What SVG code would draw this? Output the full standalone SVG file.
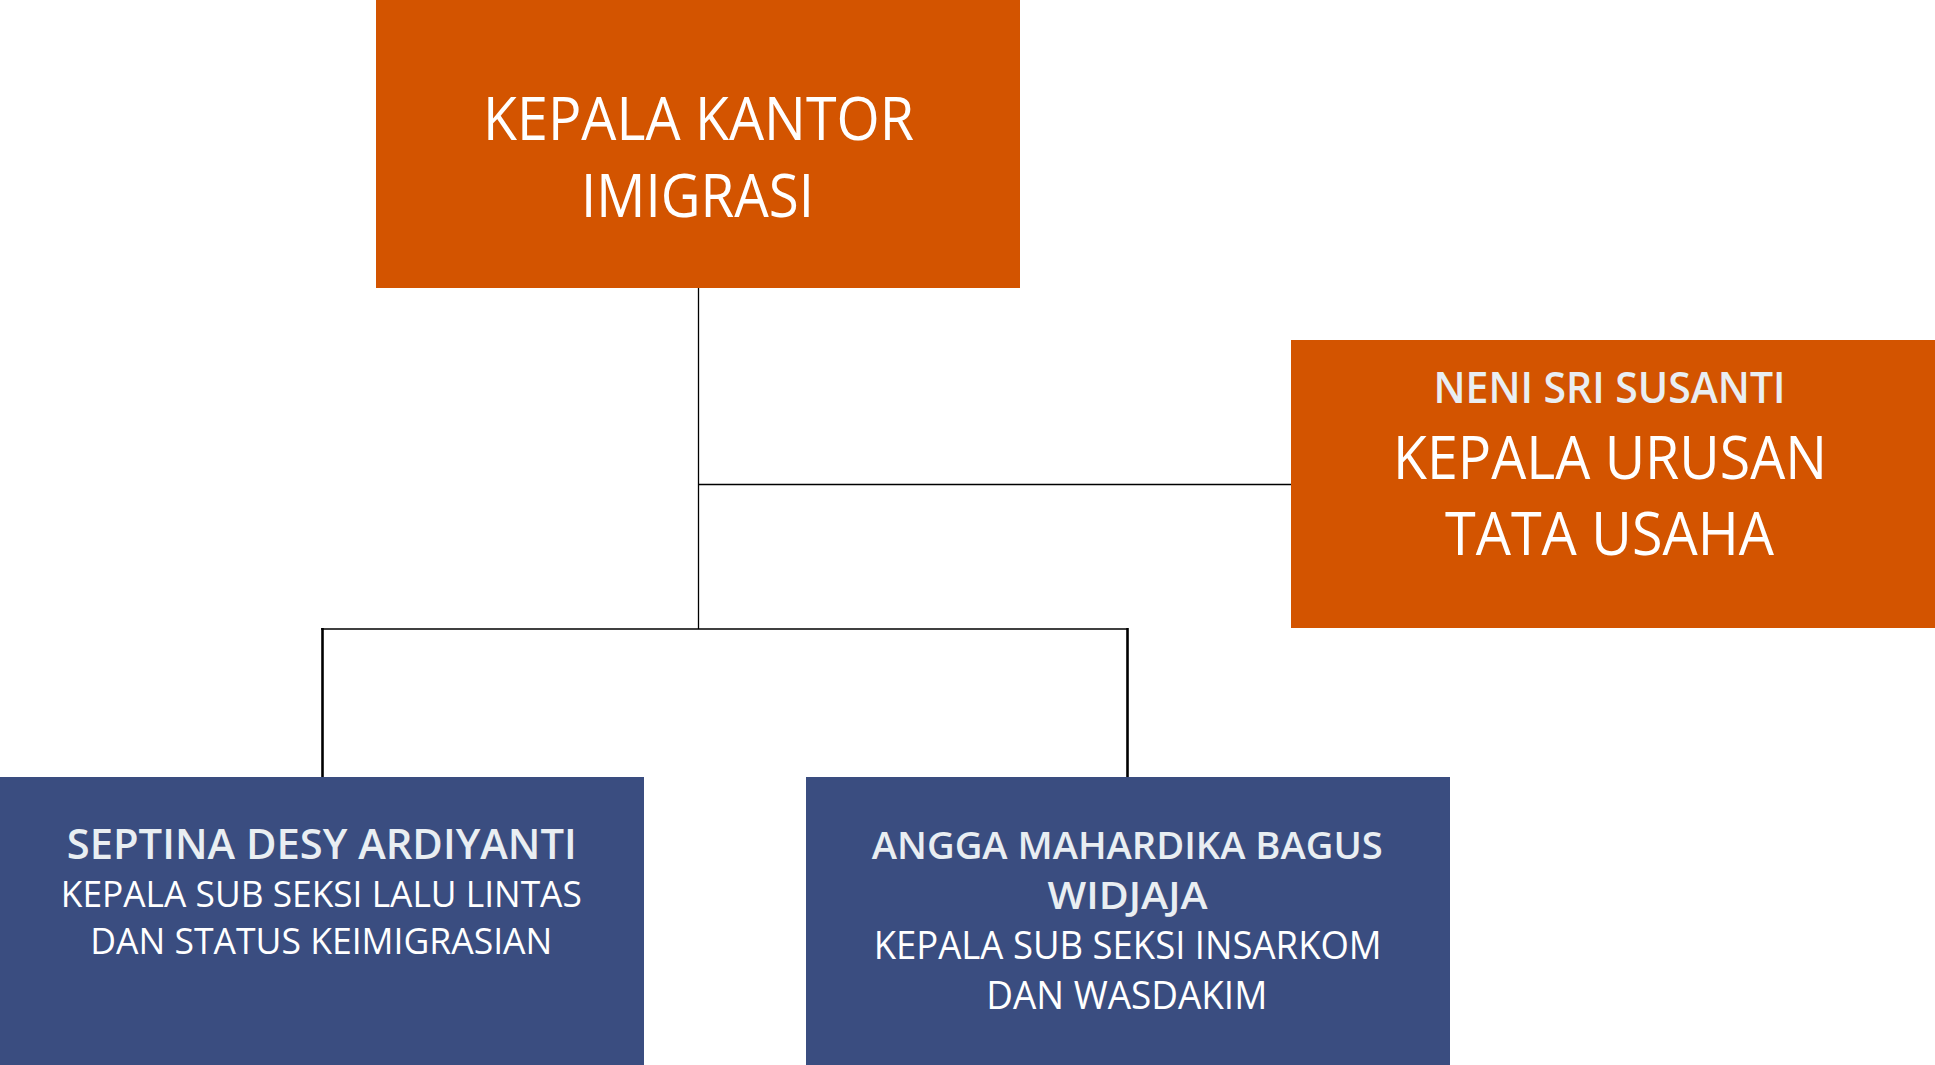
<svg xmlns="http://www.w3.org/2000/svg" width="1935" height="1065" viewBox="0 0 1935 1065">
<style>
.orange{fill:#D35400}
.blue{fill:#3A4D80}
text{font-family:"Open Sans","Liberation Sans",sans-serif;text-anchor:middle}
.big{font-size:60px;fill:#FFFFFF}
.name{font-weight:600;fill:#E9EEF2}
.role{fill:#FFFFFF}
.thin{stroke:#000;stroke-width:1.3;fill:none}
.thick{stroke:#000;stroke-width:2.6;fill:none}
</style>
<rect width="1935" height="1065" fill="#FFFFFF"/>
<g id="connectors">
<line class="thin" x1="698.5" y1="288" x2="698.5" y2="629"/>
<line class="thin" x1="698.5" y1="484.5" x2="1291" y2="484.5"/>
<line class="thin" x1="321" y1="629" x2="1128" y2="629"/>
<line class="thick" x1="322.5" y1="628" x2="322.5" y2="777"/>
<line class="thick" x1="1127.5" y1="628" x2="1127.5" y2="777"/>
</g>
<g id="kepala-kantor">
<rect class="orange" x="376" y="0" width="644" height="288"/>
<text class="big" x="698.5" y="140" textLength="431" lengthAdjust="spacingAndGlyphs">KEPALA KANTOR</text>
<text class="big" x="697.5" y="217" textLength="233" lengthAdjust="spacingAndGlyphs">IMIGRASI</text>
</g>
<g id="kepala-urusan">
<rect class="orange" x="1291" y="340" width="644" height="288"/>
<text class="name" x="1609.5" y="402.5" font-size="44" textLength="352" lengthAdjust="spacingAndGlyphs">NENI SRI SUSANTI</text>
<text class="big" x="1610" y="478.5" textLength="434" lengthAdjust="spacingAndGlyphs">KEPALA URUSAN</text>
<text class="big" x="1609.5" y="554.5" textLength="329" lengthAdjust="spacingAndGlyphs">TATA USAHA</text>
</g>
<g id="sub-seksi-lalu-lintas">
<rect class="blue" x="0" y="777" width="644" height="288"/>
<text class="name" x="321.8" y="859.3" font-size="42" textLength="510" lengthAdjust="spacingAndGlyphs">SEPTINA DESY ARDIYANTI</text>
<text class="role" x="321.3" y="906.7" font-size="37" textLength="521" lengthAdjust="spacingAndGlyphs">KEPALA SUB SEKSI LALU LINTAS</text>
<text class="role" x="321.3" y="954.3" font-size="37" textLength="462" lengthAdjust="spacingAndGlyphs">DAN STATUS KEIMIGRASIAN</text>
</g>
<g id="sub-seksi-insarkom">
<rect class="blue" x="806" y="777" width="644" height="288"/>
<text class="name" x="1127.3" y="859.3" font-size="38" textLength="511" lengthAdjust="spacingAndGlyphs">ANGGA MAHARDIKA BAGUS</text>
<text class="name" x="1127.5" y="909.3" font-size="38" textLength="160" lengthAdjust="spacingAndGlyphs">WIDJAJA</text>
<text class="role" x="1127.7" y="958.7" font-size="38" textLength="508" lengthAdjust="spacingAndGlyphs">KEPALA SUB SEKSI INSARKOM</text>
<text class="role" x="1126.8" y="1008.7" font-size="38" textLength="281" lengthAdjust="spacingAndGlyphs">DAN WASDAKIM</text>
</g>
</svg>
